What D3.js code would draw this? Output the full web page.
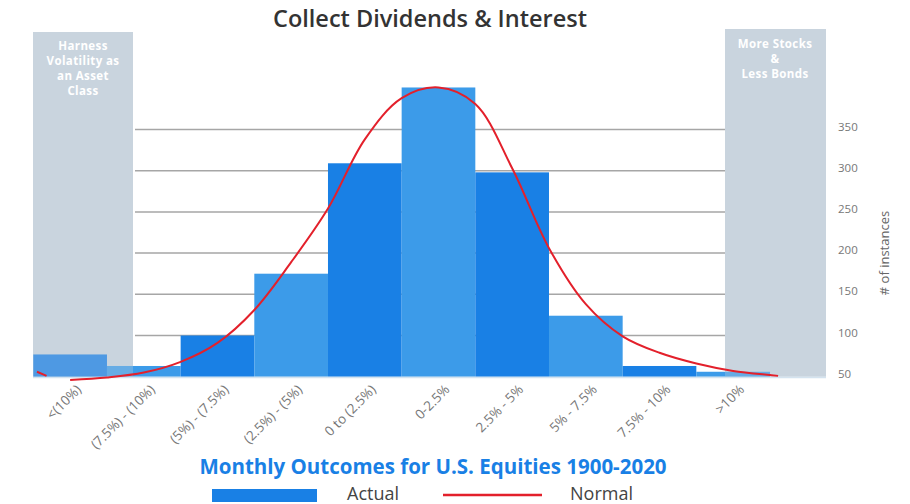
<!DOCTYPE html>
<html>
<head>
<meta charset="utf-8">
<script src="https://cdn.jsdelivr.net/npm/d3@7"></script>
<style>
  body { margin: 0; background: #fff; }
  text { font-family: "Open Sans", "DejaVu Sans", sans-serif; }
</style>
</head>
<body>
<div id="chart"></div>
<script>

var categories = ['<(10%)', '(7.5%) - (10%)', '(5%) - (7.5%)', '(2.5%) - (5%)', '0 to (2.5%)',
    '0-2.5%', '2.5% - 5%', '5% - 7.5%', '7.5% - 10%', '>10%'];
var actual = [77, 63, 100, 175, 309, 401, 298, 124, 63, 56];

// normal curve, position in bar widths from the left edge
var normalPos = [0.05, 0.18, 0.3, 0.5, 1.0, 1.5, 2.0, 2.5, 3.0, 3.5, 4.0, 4.5, 5.0, 5.5, 6.0,
    6.5, 7.0, 7.5, 8.0, 8.5, 9.0, 9.5, 10.0, 10.11];
var normalVals = [56, 51, null, 46, 49, 55, 68, 91, 131, 189, 254, 338, 388, 401, 381,
    303, 206, 138, 99, 79, 66, 57, 52, 51];

var yTicks = [50, 100, 150, 200, 250, 300, 350];
var gridTicks = [100, 150, 200, 250, 300, 350];

var leftNote = ['Harness', 'Volatility as', 'an Asset', 'Class'];
var rightNote = ['More Stocks', '&', 'Less Bonds'];

var width = 910, height = 504;
var dark = '#1980e5', light = '#3c9be9', panel = '#c9d5de';

var svg = d3.select('#chart').append('svg')
    .attr('width', width)
    .attr('height', height);

var x = d3.scaleBand()
    .domain(categories)
    .range([33.3, 770])
    .padding(0);

var xPos = d3.scaleLinear()
    .domain([0, categories.length])
    .range(x.range());

var y = d3.scaleLinear()
    .domain([50, 350])
    .range([376.7, 129.5]);

svg.append('text')
    .attr('x', 430)
    .attr('y', 27)
    .attr('text-anchor', 'middle')
    .attr('font-size', 23.5)
    .attr('font-weight', 600)
    .attr('fill', '#333')
    .text('Collect Dividends & Interest');

// grey side panels
svg.append('rect').attr('x', 33).attr('y', 32).attr('width', 100).attr('height', 376.7 - 32).attr('fill', panel);
svg.append('rect').attr('x', 725).attr('y', 29).attr('width', 101).attr('height', 376.7 - 29).attr('fill', panel);

// gridlines
svg.append('g')
    .selectAll('line')
    .data(gridTicks)
    .enter().append('line')
    .attr('x1', 135)
    .attr('x2', 725)
    .attr('y1', function(d) { return y(d); })
    .attr('y2', function(d) { return y(d); })
    .attr('stroke', '#a6a6a6')
    .attr('stroke-width', 1.5);

svg.append('g').selectAll('rect')
    .data(actual)
    .enter().append('rect')
    .attr('x', function(d, i) { return x(categories[i]); })
    .attr('width', x.bandwidth())
    .attr('y', function(d) { return y(d); })
    .attr('height', function(d) { return y(50) - y(d); })
    .attr('fill', function(d, i) { return i % 2 == 0 ? dark : light; });

// panels wash over the bars a little
svg.append('rect').attr('x', 33).attr('y', 32).attr('width', 100).attr('height', 376.7 - 32)
    .attr('fill', panel).attr('opacity', 0.3);
svg.append('rect').attr('x', 725).attr('y', 29).attr('width', 101).attr('height', 376.7 - 29)
    .attr('fill', panel).attr('opacity', 0.3);

svg.append('line')
    .attr('x1', 33).attr('x2', 826)
    .attr('y1', 377.5).attr('y2', 377.5)
    .attr('stroke', '#d4e3ef')
    .attr('stroke-width', 1.5);

function notes(lines, cx, y0) {
    svg.append('g').selectAll('text')
        .data(lines)
        .enter().append('text')
        .attr('x', cx)
        .attr('y', function(d, i) { return y0 + i * 15; })
        .attr('text-anchor', 'middle')
        .attr('font-size', 11.5)
        .attr('font-weight', 700)
        .attr('letter-spacing', 0.4)
        .attr('fill', '#fff')
        .text(function(d) { return d; });
}
notes(leftNote, 83, 50);
notes(rightNote, 775, 48);

var normalData = normalPos.map(function(p, i) { return { pos: p, value: normalVals[i] }; });

var line = d3.line()
    .defined(function(d) { return d.value != null; })
    .x(function(d) { return xPos(d.pos); })
    .y(function(d) { return y(d.value); })
    .curve(d3.curveCatmullRom);

svg.append('path')
    .datum(normalData)
    .attr('d', line)
    .attr('fill', 'none')
    .attr('stroke', '#e3202b')
    .attr('stroke-width', 2);

// right axis
var yAxis = svg.append('g')
    .attr('transform', 'translate(836,0)')
    .call(d3.axisRight(y).tickValues(yTicks).tickSize(0).tickPadding(2));
yAxis.select('.domain').remove();
yAxis.selectAll('text')
    .attr('dy', '0.05em')
    .attr('font-size', 11.5)
    .attr('fill', '#777')
    .style('font-family', '"Open Sans", sans-serif');

svg.append('text')
    .attr('transform', 'translate(889,253) rotate(-90)')
    .attr('text-anchor', 'middle')
    .attr('font-size', 13)
    .attr('fill', '#666')
    .text('# of instances');

// x labels
var xAxis = svg.append('g')
    .attr('transform', 'translate(0,377)')
    .call(d3.axisBottom(x).tickSize(0));
xAxis.select('.domain').remove();
xAxis.selectAll('text')
    .attr('x', -1)
    .attr('y', 18)
    .attr('dy', 0)
    .attr('text-anchor', 'end')
    .attr('transform', 'rotate(-45)')
    .attr('font-size', 13.5)
    .attr('fill', '#777')
    .style('font-family', '"Open Sans", sans-serif');

svg.append('text')
    .attr('x', 433)
    .attr('y', 474)
    .attr('text-anchor', 'middle')
    .attr('font-size', 20.5)
    .attr('font-weight', 700)
    .attr('fill', dark)
    .text('Monthly Outcomes for U.S. Equities 1900-2020');

// legend
svg.append('rect').attr('x', 212).attr('y', 489).attr('width', 105).attr('height', 13).attr('fill', dark);
svg.append('text').attr('x', 347).attr('y', 500).attr('font-size', 18).attr('fill', '#444').text('Actual');
svg.append('line').attr('x1', 443).attr('x2', 542).attr('y1', 495).attr('y2', 495)
    .attr('stroke', '#e3202b').attr('stroke-width', 2.5);
svg.append('text').attr('x', 570).attr('y', 500).attr('font-size', 18).attr('fill', '#444').text('Normal');

</script>
</body>
</html>
